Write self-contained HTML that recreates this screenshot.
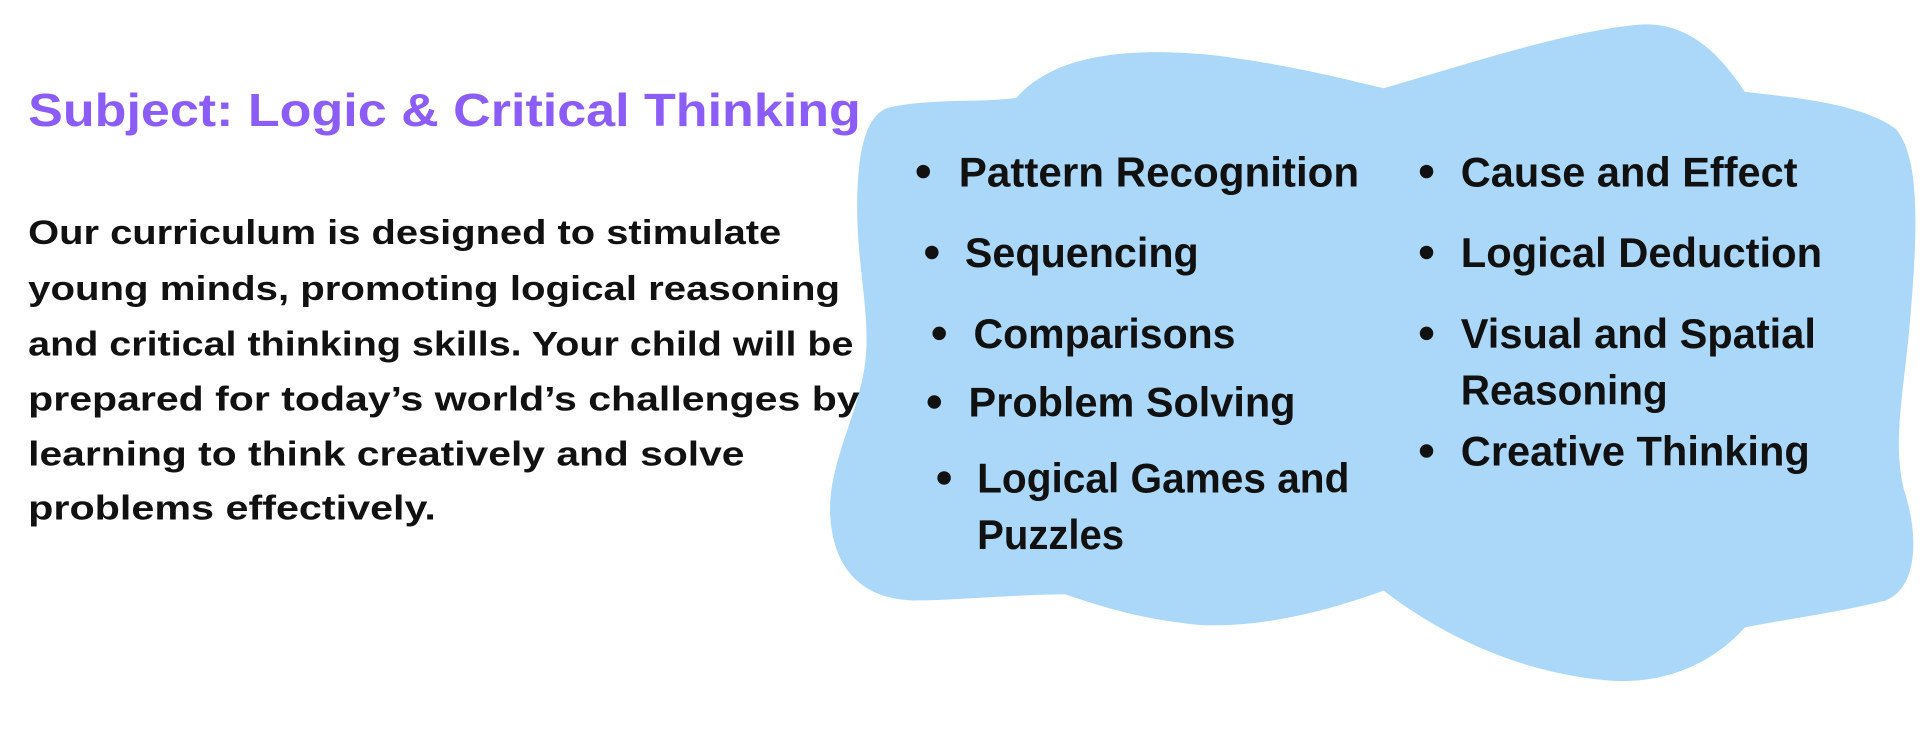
<!DOCTYPE html>
<html><head><meta charset="utf-8"><style>
html,body{margin:0;padding:0;background:#fff;width:1920px;height:750px;overflow:hidden}
svg{display:block}
.t{font-family:"Liberation Sans",sans-serif;font-weight:bold}
.p{font-family:"Liberation Sans",sans-serif;font-weight:600;fill:#111;font-size:28px}
.li{font-family:"Liberation Sans",sans-serif;font-weight:bold;fill:#111;font-size:34px}
</style></head><body>
<svg width="1920" height="750" viewBox="0 0 1568 612" preserveAspectRatio="none" xmlns="http://www.w3.org/2000/svg">
<path fill="#abd8f8" d="M725,88 C760,80 800,84 830,80 C860,45 920,38 990,45 C1050,52 1100,65 1130,72 C1200,52 1280,25 1340,20 C1380,18 1405,45 1425,75 C1470,80 1520,85 1548,105 C1570,130 1565,200 1560,260 C1555,320 1545,360 1555,400 C1568,440 1565,480 1540,490 C1500,500 1460,505 1425,512 C1400,540 1360,560 1310,555 C1240,548 1180,520 1130,482 C1080,500 1030,512 980,510 C930,505 900,495 870,485 C830,485 780,490 745,490 C700,488 680,460 678,420 C676,380 700,340 706,300 C712,260 700,220 700,170 C700,130 705,95 725,88 Z"/>
<text class="t" x="23" y="103" font-size="38" fill="#8b5cf6" textLength="680" lengthAdjust="spacingAndGlyphs">Subject: Logic &amp; Critical Thinking</text>
<text class="p" x="23" y="199" textLength="615" lengthAdjust="spacingAndGlyphs">Our curriculum is designed to stimulate</text>
<text class="p" x="23" y="245" textLength="663" lengthAdjust="spacingAndGlyphs">young minds, promoting logical reasoning</text>
<text class="p" x="23" y="290" textLength="674" lengthAdjust="spacingAndGlyphs">and critical thinking skills. Your child will be</text>
<text class="p" x="23" y="335" textLength="679" lengthAdjust="spacingAndGlyphs">prepared for today’s world’s challenges by</text>
<text class="p" x="23" y="380" textLength="585" lengthAdjust="spacingAndGlyphs">learning to think creatively and solve</text>
<text class="p" x="23" y="424" textLength="333" lengthAdjust="spacingAndGlyphs">problems effectively.</text>
<g fill="#111">
<circle cx="754" cy="140" r="5.5"/><circle cx="761" cy="206" r="5.5"/><circle cx="767" cy="272" r="5.5"/><circle cx="763" cy="328" r="5.5"/><circle cx="771" cy="390" r="5.5"/>
<circle cx="1165" cy="140" r="5.5"/><circle cx="1165" cy="206" r="5.5"/><circle cx="1165" cy="272" r="5.5"/><circle cx="1165" cy="368" r="5.5"/>
</g>
<text class="li" x="783" y="152" textLength="327" lengthAdjust="spacingAndGlyphs">Pattern Recognition</text>
<text class="li" x="788" y="218" textLength="191" lengthAdjust="spacingAndGlyphs">Sequencing</text>
<text class="li" x="795" y="284" textLength="214" lengthAdjust="spacingAndGlyphs">Comparisons</text>
<text class="li" x="791" y="340" textLength="267" lengthAdjust="spacingAndGlyphs">Problem Solving</text>
<text class="li" x="798" y="402" textLength="304" lengthAdjust="spacingAndGlyphs">Logical Games and</text>
<text class="li" x="798" y="448" textLength="120" lengthAdjust="spacingAndGlyphs">Puzzles</text>
<text class="li" x="1193" y="152" textLength="275" lengthAdjust="spacingAndGlyphs">Cause and Effect</text>
<text class="li" x="1193" y="218" textLength="295" lengthAdjust="spacingAndGlyphs">Logical Deduction</text>
<text class="li" x="1193" y="284" textLength="290" lengthAdjust="spacingAndGlyphs">Visual and Spatial</text>
<text class="li" x="1193" y="330" textLength="169" lengthAdjust="spacingAndGlyphs">Reasoning</text>
<text class="li" x="1193" y="380" textLength="285" lengthAdjust="spacingAndGlyphs">Creative Thinking</text>
</svg>
</body></html>
